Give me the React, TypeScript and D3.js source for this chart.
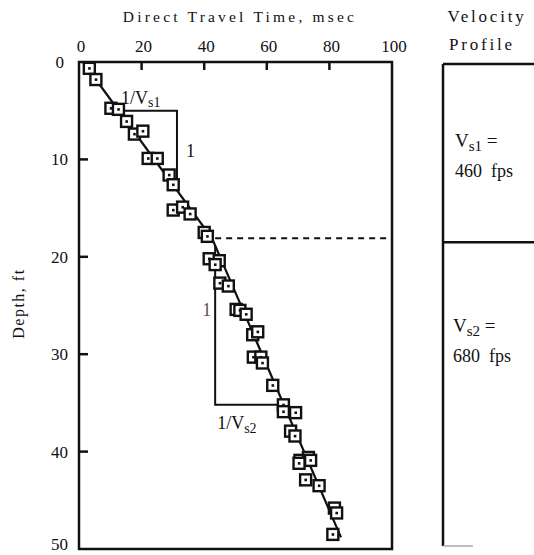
import React from 'react';
import * as d3 from 'd3';

// measured points: direct travel time (msec) vs depth (ft)
const travelTime = [
  3.3, 5.4, 10.2, 12.6, 15.2, 17.7, 20.4, 22.1, 25.0, 28.8, 30.1, 30.1, 33.1, 35.5, 40.0, 41.0,
  41.6, 44.8, 43.5, 45.0, 47.7, 50.2, 51.4, 53.4, 55.5, 57.1, 55.7, 58.1, 58.6, 61.9, 65.3,
  65.3, 69.2, 67.6, 69.0, 70.6, 73.3, 74.0, 70.3, 72.4, 76.7, 81.6, 82.3, 81.1
];
const depth = [
  0.65, 1.8, 4.75, 4.86, 6.1, 7.4, 7.1, 9.9, 9.9, 11.6, 12.6, 15.2, 14.9, 15.6, 17.5, 17.9,
  20.2, 20.4, 20.8, 22.7, 23.0, 25.4, 25.5, 25.9, 28.0, 27.7, 30.3, 30.3, 30.9, 33.2, 35.2,
  35.9, 36.0, 37.9, 38.4, 40.9, 40.6, 40.9, 41.2, 42.9, 43.5, 45.8, 46.3, 48.5
];

// bilinear fit through the data
const fitTime = [1.3, 42.5, 83.7];
const fitDepth = [0, 18.1, 48.8];

const timeTicks = [0, 20, 40, 60, 80, 100];
const depthTicks = [0, 10, 20, 30, 40, 50];

const layerBoundary = 18.1;
const layerNames = ['s1', 's2'];
const layerVelocity = [460, 680];

const width = 534;
const height = 555;
const font = '"Liberation Serif", "Times New Roman", serif';

const x = d3.scaleLinear().domain([0, 100]).range([79, 392]);
const y = d3.scaleLinear().domain([0, 50]).range([62, 549]);

// piecewise fit line, both ways
const timeAt = d3.scaleLinear().domain(fitDepth).range(fitTime);
const depthAt = d3.scaleLinear().domain(fitTime).range(fitDepth);

const line = d3
  .line<number>()
  .x(d => x(fitTime[d]))
  .y(d => y(fitDepth[d]));

// slope triangles
const tri1Depth = 5;
const tri1Time = 31.3;
const tri2Time = 43.5;
const tri2Depth = 35.2;

const tri1 = [
  [timeAt(tri1Depth), tri1Depth],
  [tri1Time, tri1Depth],
  [tri1Time, depthAt(tri1Time)]
];
const tri2 = [
  [tri2Time, depthAt(tri2Time)],
  [tri2Time, tri2Depth],
  [timeAt(tri2Depth), tri2Depth]
];
const triPath = d3
  .line<number[]>()
  .x(d => x(d[0]))
  .y(d => y(d[1]));

const panelLeft = 443;
const panelTop = 64;
const panelBottom = 546;

export default function App() {
  return (
    <div style={{ position: 'absolute', left: 0, top: 0 }}>
      <svg width={width} height={height} style={{ display: 'block', background: '#fff' }}>
        <g fontFamily={font} fill="#111">
          {/* titles */}
          <text x={240} y={22} fontSize={15.5} letterSpacing={3.2} textAnchor="middle">
            Direct Travel Time, msec
          </text>
          <text x={487} y={22} fontSize={17} letterSpacing={2.8} textAnchor="middle">
            Velocity
          </text>
          <text x={482} y={50} fontSize={17} letterSpacing={2.8} textAnchor="middle">
            Profile
          </text>
          <text
            transform={`translate(24,${y(24.8)}) rotate(-90)`}
            fontSize={16}
            letterSpacing={1.5}
            textAnchor="middle"
          >
            Depth, ft
          </text>

          {/* tick labels */}
          {timeTicks.map(t => (
            <text key={'tt' + t} x={x(t) + 2} y={52} fontSize={17} textAnchor="middle">
              {t}
            </text>
          ))}
          {depthTicks.map(d => (
            <text
              key={'dt' + d}
              x={d === 0 ? 64 : 68}
              y={Math.min(y(d) + 6, 550)}
              fontSize={17}
              textAnchor="end"
            >
              {d}
            </text>
          ))}
        </g>

        {/* frame */}
        <rect
          x={x(0)}
          y={y(0)}
          width={x(100) - x(0)}
          height={y(50) - y(0)}
          fill="none"
          stroke="#111"
          strokeWidth={2.5}
        />
        {timeTicks.slice(1, -1).map(t => (
          <line key={'tk' + t} x1={x(t)} x2={x(t)} y1={y(0)} y2={y(0) + 8} stroke="#111" strokeWidth={2.5} />
        ))}
        {depthTicks.slice(1, -1).map(d => (
          <line key={'dk' + d} x1={x(0)} x2={x(0) + 9} y1={y(d)} y2={y(d)} stroke="#111" strokeWidth={2.5} />
        ))}

        {/* layer boundary */}
        <line
          x1={x(tri2Time)}
          x2={x(100)}
          y1={y(layerBoundary)}
          y2={y(layerBoundary)}
          stroke="#111"
          strokeWidth={2}
          strokeDasharray="6 5"
        />

        {/* slope triangles */}
        <path d={triPath(tri1) || ''} fill="none" stroke="#111" strokeWidth={2} />
        <path d={triPath(tri2) || ''} fill="none" stroke="#111" strokeWidth={2} />

        {/* fit line */}
        <path d={line([0, 1, 2]) || ''} fill="none" stroke="#111" strokeWidth={2.2} />

        {/* data points */}
        {travelTime.map((t, i) => (
          <g key={i} transform={`translate(${x(t)},${y(depth[i])})`}>
            <rect x={-5.5} y={-5.5} width={11} height={11} fill="#fff" stroke="#111" strokeWidth={2.4} />
            <rect x={-1.2} y={-1.2} width={2.6} height={2.6} fill="#111" />
          </g>
        ))}

        <g fontFamily={font} fill="#111">
          {/* triangle labels */}
          <text x={(x(timeAt(tri1Depth)) + x(tri1Time)) / 2 - 7} y={y(tri1Depth) - 7} fontSize={18} textAnchor="middle">
            1/V<tspan fontSize={14} dy={3}>{layerNames[0]}</tspan>
          </text>
          <text x={x(tri1Time) + 9} y={y((tri1Depth + depthAt(tri1Time)) / 2) + 6} fontSize={18}>
            1
          </text>
          <text x={x(tri2Time) - 13} y={316} fontSize={18} fill="#555">
            1
          </text>
          <text x={x(tri2Time) + 2} y={y(tri2Depth) + 24} fontSize={18}>
            1/V<tspan fontSize={14} dy={4}>{layerNames[1]}</tspan>
          </text>
        </g>

        {/* velocity profile panel */}
        <line x1={panelLeft} x2={panelLeft} y1={panelTop} y2={panelBottom} stroke="#111" strokeWidth={2.5} />
        <line x1={panelLeft} x2={width} y1={panelTop} y2={panelTop} stroke="#111" strokeWidth={2.5} />
        <line
          x1={panelLeft}
          x2={width}
          y1={y(layerBoundary) + 4}
          y2={y(layerBoundary) + 4}
          stroke="#111"
          strokeWidth={2.5}
        />
        <line x1={panelLeft} x2={panelLeft + 30} y1={panelBottom} y2={panelBottom} stroke="#aaa" strokeWidth={1.5} />

        <g fontFamily={font} fill="#111">
          {layerNames.map((n, i) => {
            const top = i === 0 ? 147 : 332;
            return (
              <g key={n}>
                <text x={455 - (i === 1 ? 2 : 0)} y={top} fontSize={19}>
                  V<tspan fontSize={15} dy={4}>{n}</tspan>
                  <tspan fontSize={19} dy={-4}> =</tspan>
                </text>
                <text x={455 - (i === 1 ? 2 : 0)} y={top + 30} fontSize={18}>
                  {layerVelocity[i] + '\u00a0\u00a0fps'}
                </text>
              </g>
            );
          })}
        </g>
      </svg>
    </div>
  );
}
